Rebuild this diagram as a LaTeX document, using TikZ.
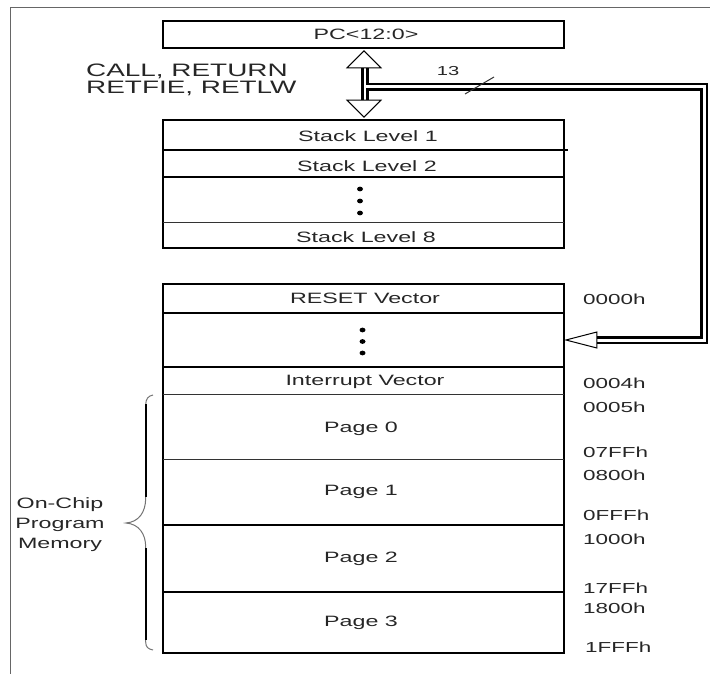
\documentclass[tikz,border=0pt]{standalone}
\usepackage{fontspec}
\newfontfamily\wf{Liberation Sans}[FakeStretch=1.55]
\usetikzlibrary{calc}
\begin{document}
\begin{tikzpicture}[x=1pt,y=-1pt,
  txt/.style={font=\wf\fontsize{#1}{#1}\selectfont, text=black!85, inner sep=0pt},
  box/.style={draw=black, line width=1.8pt, minimum width=401pt, inner sep=0pt},
  thicksep/.style={draw=black, line width=1.8pt},
  thinsep/.style={draw=black!80, line width=1pt},
  addr/.style={txt=14.5, anchor=west},
  head/.style={draw=black, fill=white, line width=1pt, line join=miter},
  dot/.style={fill=black}]
\useasboundingbox (0,0) rectangle (710,674);
% frame
\draw[black!60, line width=1pt] (10,674) -- (10,8) -- (710,8);

% PC box
\node[box, minimum height=27pt] (pc) at (363.5,34.5) {};
\node[txt=15] (pct) at (366,34.5) {PC<12:0>};

% labels
\node[txt=18, anchor=west] (call) at (86,71.5) {CALL, RETURN};
\node[txt=18, anchor=west] (retfie) at (86,88.5) {RETFIE, RETLW};

% stack
\node[box, minimum height=128pt] (stack) at (363.5,184) {};
\draw[thicksep] (163,150) -- (568,150);
\draw[thicksep] (163,177) -- (564,177);
\draw[thinsep] (163,222) -- (564,222);
\node[txt=15] (s1) at (368,136) {Stack Level 1};
\node[txt=15] (s2) at (367,166) {Stack Level 2};
\node[txt=15] (s8) at (366,237) {Stack Level 8};
\fill[dot] (360,189) ellipse [x radius=3pt, y radius=2.4pt];
\fill[dot] (360,201) ellipse [x radius=3pt, y radius=2.4pt];
\fill[dot] (360,213) ellipse [x radius=3pt, y radius=2.4pt];

% program memory
\node[box, minimum height=369pt] (mem) at (363.5,468.5) {};
\draw[thicksep] (163,313) -- (564,313);
\draw[thicksep] (163,367) -- (564,367);
\draw[thinsep] (163,394) -- (564,394);
\draw[thinsep] (163,459) -- (564,459);
\draw[thicksep] (163,525) -- (564,525);
\draw[thicksep] (163,592) -- (564,592);
\node[txt=15] (reset) at (365,298) {RESET Vector};
\fill[dot] (362.5,330) ellipse [x radius=3pt, y radius=2.4pt];
\fill[dot] (362.5,341.5) ellipse [x radius=3pt, y radius=2.4pt];
\fill[dot] (362.5,353) ellipse [x radius=3pt, y radius=2.4pt];
\node[txt=15] (intv) at (365,381.5) {Interrupt Vector};
\node[txt=15] (p0) at (361,429) {Page 0};
\node[txt=15] (p1) at (361,492) {Page 1};
\node[txt=15] (p2) at (361,559) {Page 2};
\node[txt=15] (p3) at (361,623) {Page 3};

% addresses
\node[addr] (a0) at (583,299) {0000h};
\node[addr] (a4) at (583,383) {0004h};
\node[addr] (a5) at (583,407) {0005h};
\node[addr] (a7) at (583,452) {07FFh};
\node[addr] (a8) at (583,475) {0800h};
\node[addr] (af) at (583,515) {0FFFh};
\node[addr] (a10) at (583,539) {1000h};
\node[addr] (a17) at (583,588) {17FFh};
\node[addr] (a18) at (583,608) {1800h};
\node[addr] (a1f) at (585,647) {1FFFh};

% brace and label
\draw[black!55, line width=1pt] (153,395) .. controls (148,396) and (145.7,399) .. (145.7,405) -- (145.7,498)
  .. controls (145.7,512) and (139,522) .. (126,523)
  .. controls (139,524) and (145.7,534) .. (145.7,547) -- (145.7,642)
  .. controls (145.7,647) and (148,649) .. (153,650);
\draw[black, line width=2pt] (145.7,404) -- (145.7,497);
\draw[black, line width=2pt] (145.7,548) -- (145.7,640);
\node[txt=15] (oc) at (60,505) {On-Chip};
\node[txt=15] (pm) at (60,525) {Program};
\node[txt=15] (mm) at (60,545) {Memory};

% connectors
\coordinate (upTip) at ($(pc.south)+(0.5,2)$);
\coordinate (dnTip) at ($(stack.north)+(0.5,-2)$);
\coordinate (upBase) at ($(upTip)+(0,17)$);
\coordinate (dnBase) at ($(dnTip)+(0,-17)$);
\coordinate (busJ) at ($(upTip)+(1,36)$);
\coordinate (busR) at (704,0);
\coordinate (y340) at (0,340);
\coordinate (memIn) at ($(mem.east |- y340)+(1,0)$);
\coordinate (memBase) at ($(memIn)+(31,0)$);

% black outer
\draw[black, line width=7.6pt] ($(upBase)+(1,0)$) -- ($(dnBase)+(1,0)$);
\draw[black, line width=7.4pt, line join=miter] (busJ) -| (busR |- memIn) -- (memBase);
% white interiors
\draw[white, line width=2.2pt] ($(upBase)+(1.3,0)$) -- ($(dnBase)+(1.3,0)$);
\draw[white, line width=3pt, line join=miter] (busJ) -| (busR |- memIn) -- (memBase);
% heads
\draw[head] (upTip) -- ($(upBase)+(17,0)$) -- ($(upBase)+(-17,0)$) -- cycle;
\draw[head] (dnTip) -- ($(dnBase)+(17,0)$) -- ($(dnBase)+(-17,0)$) -- cycle;
\draw[head] (memIn) -- ($(memBase)+(0,-8)$) -- ($(memBase)+(0,8)$) -- cycle;

% bus width mark
\node[txt=13] (n13) at (448,71) {13};
\draw[black!80, line width=1pt] (465,94) -- (494,77);
\end{tikzpicture}
\end{document}
